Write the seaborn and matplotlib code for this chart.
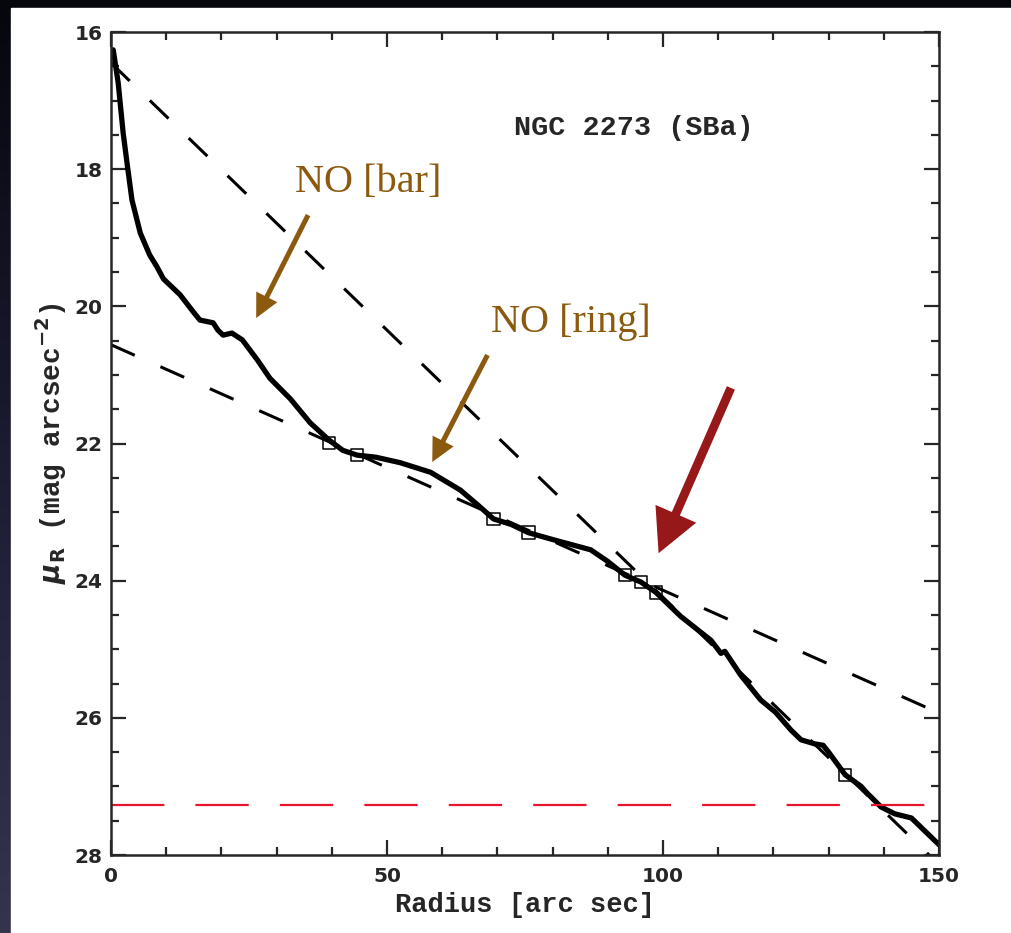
import numpy as np
import pandas as pd
import matplotlib
matplotlib.use("Agg")
import matplotlib.pyplot as plt
from matplotlib.patches import Rectangle
from matplotlib.colors import LinearSegmentedColormap
import seaborn as sns

sns.set_style("ticks")

# ===================== DATA =====================

# surface brightness profile of NGC 2273
radius = [0.4, 1.3, 2.2, 3.0, 3.8, 5.3, 7.0, 8.3, 9.5, 12.5, 14.9, 16.1, 18.5,
          19.4, 20.3, 21.9, 23.8, 26.5, 28.8, 32.5, 36.1, 39.5, 42.0, 44.6,
          48.0, 52.4, 57.9, 63.3, 66.5, 69.3, 72.5, 75.6, 80.0, 86.9, 90.0,
          93.1, 96.0, 98.7, 103.2, 108.7, 110.5, 111.2, 114.1, 117.7, 120.4,
          123.2, 125.0, 127.5, 129.0, 130.0, 133.0, 135.9, 137.0, 139.5,
          142.0, 145.0, 150.0]
mu_r = [16.26, 16.74, 17.47, 17.97, 18.45, 18.93, 19.25, 19.42, 19.6, 19.83,
        20.08, 20.2, 20.24, 20.35, 20.42, 20.39, 20.49, 20.78, 21.05, 21.35,
        21.7, 21.95, 22.1, 22.17, 22.2, 22.28, 22.42, 22.68, 22.9, 23.1,
        23.18, 23.3, 23.4, 23.55, 23.72, 23.92, 24.02, 24.17, 24.52, 24.87,
        25.06, 25.03, 25.38, 25.74, 25.92, 26.18, 26.32, 26.38, 26.4, 26.5,
        26.83, 27.0, 27.1, 27.3, 27.4, 27.46, 27.85]

# open squares marking measured points
sq_radius = [39.5, 44.6, 69.3, 75.6, 93.1, 96.0, 98.7, 133.0]
sq_mu = [21.99, 22.17, 23.1, 23.3, 23.92, 24.02, 24.17, 26.83]

# exponential fits (dashed)
inner_fit_x = [0, 150]
inner_fit_y = [16.45, 28.14]
outer_fit_x = [0, 150]
outer_fit_y = [20.56, 25.93]

# sky limit
sky_x = [0, 150]
sky_y = [27.27, 27.27]

profile = pd.DataFrame({"Radius": radius, "mu": mu_r})
squares = pd.DataFrame({"Radius": sq_radius, "mu": sq_mu})

# ===================== FIGURE =====================

W, H = 1011, 933
fig = plt.figure(figsize=(W / 100, H / 100), dpi=100)

# dark slide background with white panel
bg = fig.add_axes([0, 0, 1, 1], zorder=-10)
grad = np.linspace(0, 1, 256).reshape(-1, 1)
cm = LinearSegmentedColormap.from_list("bg", ["#06060d", "#1c1c33", "#34344f"])
bg.imshow(grad, aspect="auto", cmap=cm, extent=[0, 1, 0, 1])
bg.add_patch(Rectangle((11 / W, 0), 1, 1 - 8 / H, color="white"))
bg.set_xlim(0, 1)
bg.set_ylim(0, 1)
bg.axis("off")

ax = fig.add_axes([111 / W, 1 - 855 / H, (939 - 111) / W, (855 - 32) / H])

sns.lineplot(data=profile, x="Radius", y="mu", ax=ax, color="black",
             linewidth=3.8, sort=False, estimator=None)
sns.lineplot(x=inner_fit_x, y=inner_fit_y, ax=ax, color="black",
             linewidth=2.2, linestyle=(0, (8.5, 9.2)))
sns.lineplot(x=outer_fit_x, y=outer_fit_y, ax=ax, color="black",
             linewidth=2.2, linestyle=(0, (8.5, 9.2)))
sns.lineplot(x=sky_x, y=sky_y, ax=ax, color="#e8142e",
             linewidth=1.6, linestyle=(0, (24, 14)))
sns.scatterplot(data=squares, x="Radius", y="mu", ax=ax, marker="s", s=80,
                facecolor="none", edgecolor="black", linewidth=1.1, zorder=5)

ax.set_xlim(0, 150)
ax.set_ylim(28, 16)
ax.set_xticks([0, 50, 100, 150])
ax.set_xticks(np.arange(0, 151, 10), minor=True)
ax.set_yticks([16, 18, 20, 22, 24, 26, 28])
ax.set_yticks(np.arange(16, 28.01, 0.5), minor=True)
ax.tick_params(which="both", direction="in", top=True, right=True,
               width=1.6, labelsize=14.5)
ax.tick_params(which="major", length=11)
ax.tick_params(which="minor", length=6)
ax.tick_params(axis="x", pad=9)
ax.tick_params(axis="y", pad=6)
for lab in ax.get_xticklabels() + ax.get_yticklabels():
    lab.set_fontweight("bold")
for sp in ax.spines.values():
    sp.set_linewidth(1.8)

mono = "Liberation Mono"
ax.set_xlabel("Radius [arc sec]", family=mono, fontsize=19.5,
              fontweight="bold", labelpad=4)
ax.set_ylabel(r"$\boldsymbol{\mu}_{\mathbf{R}}$ (mag arcsec$^{\mathbf{-2}}$)",
              family=mono, fontsize=20, fontweight="bold", labelpad=4)

ax.text(94.7, 17.4, "NGC 2273 (SBa)", family=mono, fontsize=20.5,
        fontweight="bold", ha="center", va="center")

brown = "#8b5a0f"
ax.text(46.6, 18.2, "NO [bar]", family="Liberation Serif", fontsize=29,
        color=brown, ha="center", va="center")
ax.text(83.3, 20.23, "NO [ring]", family="Liberation Serif", fontsize=29,
        color=brown, ha="center", va="center")

small = "simple,head_length=17,head_width=17,tail_width=3.6"
ax.annotate("", xy=(26.3, 20.17), xytext=(35.7, 18.67),
            arrowprops=dict(arrowstyle=small, color=brown, mutation_scale=1,
                            shrinkA=0, shrinkB=0, lw=0))
ax.annotate("", xy=(58.2, 22.27), xytext=(68.2, 20.71),
            arrowprops=dict(arrowstyle=small, color=brown, mutation_scale=1,
                            shrinkA=0, shrinkB=0, lw=0))
big = "simple,head_length=31,head_width=32,tail_width=6.3"
ax.annotate("", xy=(99.2, 23.6), xytext=(112.3, 21.19),
            arrowprops=dict(arrowstyle=big, color="#961818", mutation_scale=1,
                            shrinkA=0, shrinkB=0, lw=0))

fig.savefig("out.png", dpi=100)
